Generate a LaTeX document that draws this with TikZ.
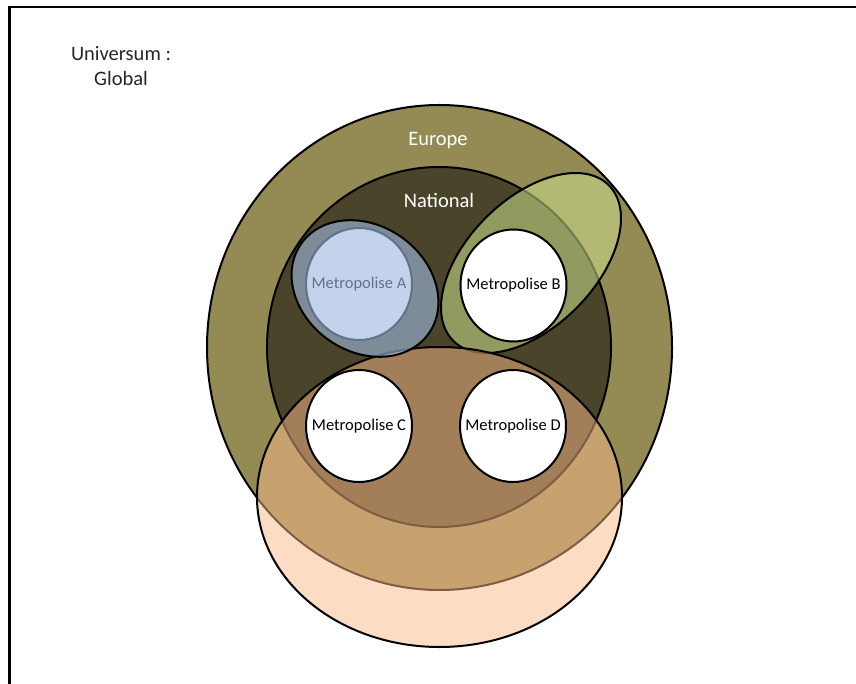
\documentclass[tikz,border=0pt]{standalone}
\usepackage{fontspec}
\setmainfont{Carlito}
\usetikzlibrary{shapes.geometric}
\definecolor{europe}{RGB}{148,138,84}
\definecolor{national}{RGB}{74,68,42}
\definecolor{peach}{RGB}{250,186,136}
\definecolor{greenov}{RGB}{205,225,140}
\definecolor{blueov}{RGB}{158,185,223}
\definecolor{titletext}{RGB}{38,38,38}
\newcommand{\citytext}[1]{\makebox[0pt]{#1}}
\begin{document}
\begin{tikzpicture}[x=1pt,y=-1pt,
  region/.style={draw=black, line width=2pt},
  city/.style={ellipse, draw=black, line width=2pt, fill=white,
    minimum width=106pt, minimum height=112pt, inner sep=0pt,
    font=\fontsize{16.5}{19}\selectfont},
  biglabel/.style={anchor=base, inner sep=0pt, font=\fontsize{20.5}{24}\selectfont}
  ]
\useasboundingbox (0,0) rectangle (856,684);
% frame
\draw[line width=2.5pt] (9.7,720) -- (9.7,7) -- (880,7);
% Europe
\path[region, fill=europe] (439.5,347.5) ellipse [x radius=232.5pt, y radius=242.5pt];
% National
\path[region, fill=national] (439,347) ellipse [x radius=172pt, y radius=180pt];
% Metropolise A (under blue overlay)
\node[city] (metA) at (359,284) {\citytext{Metropolise A}};
% green overlay around B
\path[region, fill=greenov, fill opacity=0.55, rotate around={45:(531,263)}]
  (531,263) ellipse [x radius=110pt, y radius=64pt];
\node[city] (metB) at (513.5,285.5) {\citytext{Metropolise B}};
% peach region
\path[region, fill=peach, fill opacity=0.5] (439.5,497) ellipse [x radius=182.5pt, y radius=150pt];
% blue overlay around A
\path[region, fill=blueov, fill opacity=0.62, rotate around={-35:(365,288.5)}]
  (365,288.5) ellipse [x radius=78pt, y radius=63pt];
% Metropolise C and D
\node[city] (metC) at (359,426) {\citytext{Metropolise C}};
\node[city] (metD) at (513,426) {\citytext{Metropolise D}};
% labels
\node[biglabel, text=white] (europeLabel) at (438,146) {Europe};
\node[biglabel, text=white] (nationalLabel) at (439,208) {National};
\node[biglabel, text=titletext] (universum) at (121,61) {Universum :};
\node[biglabel, text=titletext] (global) at (121,86) {Global};
\end{tikzpicture}
\end{document}
